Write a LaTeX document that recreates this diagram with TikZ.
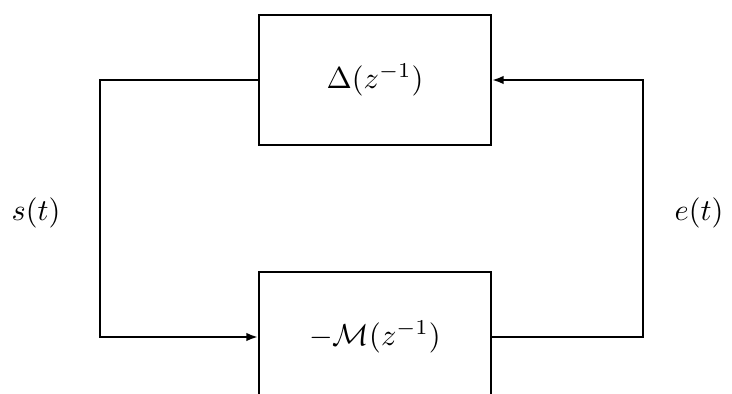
\documentclass[tikz,border=0pt]{standalone}
\usetikzlibrary{arrows.meta}
\begin{document}
\begin{tikzpicture}[x=0.33pt,y=-0.33pt,
  blockbox/.style={draw,line width=0.7pt,minimum width={232*0.33pt},minimum height={130*0.33pt},inner sep=0pt},
  wire/.style={line width=0.7pt,line join=miter},
  arr/.style={wire,-{Latex[length=3.8pt,width=2.8pt]}},
  lbl/.style={inner sep=0pt}]
\useasboundingbox (0,0) rectangle (732,394);
\clip (0,0) rectangle (732,394);
\node[blockbox] (D) at (375,80) {$\Delta(z^{-1})$};
\node[blockbox] (M) at (375,337) {$-\mathcal{M}(z^{-1})$};
\coordinate (lc) at (100,208);
\coordinate (rc) at (643,208);
\draw[arr] (D.west) -| (lc) |- (M.west);
\draw[arr] (M.east) -| (rc) |- (D.east);
\node[lbl] (s) at (36,213) {$s(t)$};
\node[lbl] (e) at (699,213) {$e(t)$};
\end{tikzpicture}
\end{document}
